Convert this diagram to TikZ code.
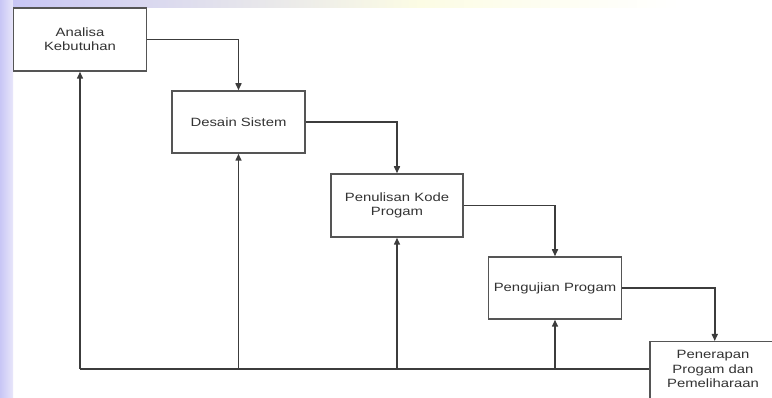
\documentclass[tikz,border=0pt]{standalone}
\usepackage{fontspec}
\setmainfont{Liberation Sans}[FakeStretch=1.24]
\usetikzlibrary{arrows.meta}
\definecolor{lav}{RGB}{200,198,245}
\definecolor{lavlight}{RGB}{232,230,250}
\definecolor{ylw}{RGB}{252,252,228}
\definecolor{boxline}{RGB}{85,85,85}
\definecolor{conline}{RGB}{60,60,60}
\tikzset{
  box/.style={draw=boxline, line width=1.5pt, fill=white, rectangle, inner sep=0pt,
    align=center, font=\fontsize{12}{14}\selectfont, text=black!80},
  lbl/.style={align=center, font=\fontsize{12}{14.5}\selectfont, text=black!80, inner sep=0pt},
  conn/.style={draw=conline, line width=1.5pt},
  arr/.style={conn, -{Triangle[length=7pt,width=6pt]}}
}
\begin{document}
\begin{tikzpicture}[x=1pt,y=-1pt]
\useasboundingbox (0,0) rectangle (772,398);
\clip (0,0) rectangle (772,398);
% background tint
\fill[white] (0,0) rectangle (772,398);
\shade[left color=lav, right color=lavlight] (0,0) rectangle (13,398);
\shade[left color=lav, right color=ylw] (13,0) rectangle (420,8);
\shade[left color=ylw, right color=white] (420,0) rectangle (680,8);
% boxes
\node[box, minimum width=133, minimum height=63] (b1) at (80,39.5) {Analisa\\Kebutuhan};
\node[box, minimum width=133, minimum height=62] (b2) at (238.5,122) {Desain Sistem};
\node[box, minimum width=132, minimum height=63] (b3) at (397,205.5) {Penulisan Kode\\Progam};
\node[box, minimum width=133, minimum height=62] (b4) at (555,288) {Pengujian Progam};
\node[box, minimum width=130, minimum height=90, anchor=north west] (b5) at (649,341) {};
\node[lbl] (t5) at (713,369) {Penerapan\\Progam dan\\Pemeliharaan};
% forward arrows
\draw[arr] (b1.east) -| (b2.north);
\draw[arr] (b2.east) -| (b3.north);
\draw[arr] (b3.east) -| (b4.north);
\draw[arr] (b4.east) -| (b5.north);
% feedback
\coordinate (fb) at (b5.west |- 0,369);
\draw[conn] (fb) -- (b1.south |- fb);
\draw[arr] (b1.south |- fb) -- (b1.south);
\draw[arr] (b2.south |- fb) -- (b2.south);
\draw[arr] (b3.south |- fb) -- (b3.south);
\draw[arr] (b4.south |- fb) -- (b4.south);
\end{tikzpicture}
\end{document}
